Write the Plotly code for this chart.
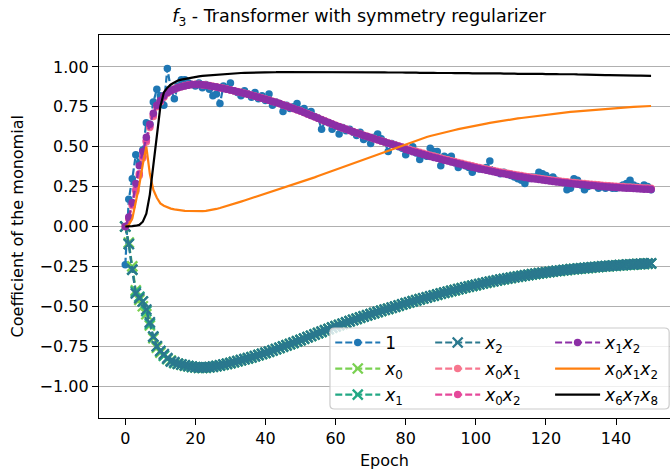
import plotly.graph_objects as go

epochs = list(range(151))

s_one = [-0.24, 0.17, 0.30, 0.45, 0.40, 0.48, 0.65, 0.64, 0.78, 0.86,
         0.82, 0.76, 0.99, 0.86, 0.80, 0.88, 0.92, 0.92, 0.90, 0.89,
         0.88, 0.90, 0.87, 0.89, 0.86, 0.82, 0.83, 0.77, 0.88, 0.86,
         0.90, 0.85, 0.84, 0.82, 0.85, 0.83, 0.81, 0.84, 0.80, 0.82,
         0.79, 0.83, 0.76, 0.78, 0.77, 0.72, 0.76, 0.74, 0.75, 0.77,
         0.73, 0.74, 0.71, 0.72, 0.69, 0.68, 0.61, 0.66, 0.65, 0.61,
         0.63, 0.58, 0.62, 0.60, 0.61, 0.59, 0.57, 0.59, 0.545, 0.56,
         0.52, 0.56, 0.58, 0.55, 0.53, 0.47, 0.52, 0.51, 0.50, 0.49,
         0.45, 0.48, 0.50, 0.46, 0.42, 0.45, 0.44, 0.49, 0.47, 0.47,
         0.38, 0.44, 0.43, 0.44, 0.40, 0.37, 0.39, 0.38, 0.37, 0.34,
         0.37, 0.36, 0.36, 0.37, 0.41, 0.35, 0.34, 0.33, 0.34, 0.33,
         0.32, 0.31, 0.30, 0.29, 0.27, 0.30, 0.31, 0.31, 0.34, 0.33,
         0.32, 0.30, 0.31, 0.29, 0.28, 0.28, 0.23, 0.24, 0.30, 0.29,
         0.26, 0.23, 0.25, 0.26, 0.26, 0.24, 0.25, 0.24, 0.25, 0.24,
         0.24, 0.25, 0.26, 0.27, 0.29, 0.26, 0.25, 0.24, 0.26, 0.25,
         0.23]

s_x0 = [0.00, -0.10, -0.25, -0.40, -0.46, -0.50, -0.55, -0.62, -0.70, -0.76,
        -0.79, -0.81, -0.83, -0.84, -0.855, -0.86, -0.866, -0.872, -0.876, -0.88,
        -0.883, -0.885, -0.886, -0.884, -0.882, -0.879, -0.875, -0.871, -0.866, -0.861,
        -0.856, -0.85, -0.844, -0.838, -0.832, -0.826, -0.82, -0.813, -0.806, -0.799,
        -0.792, -0.785, -0.777, -0.769, -0.761, -0.753, -0.745, -0.737, -0.729, -0.72,
        -0.712, -0.703, -0.694, -0.686, -0.677, -0.668, -0.66, -0.651, -0.643, -0.634,
        -0.626, -0.618, -0.61, -0.602, -0.594, -0.586, -0.579, -0.571, -0.564, -0.557,
        -0.55, -0.543, -0.536, -0.529, -0.522, -0.516, -0.509, -0.503, -0.496, -0.489,
        -0.482, -0.476, -0.469, -0.463, -0.457, -0.451, -0.445, -0.439, -0.433, -0.427,
        -0.421, -0.415, -0.41, -0.404, -0.399, -0.393, -0.388, -0.382, -0.377, -0.372,
        -0.367, -0.362, -0.357, -0.352, -0.347, -0.343, -0.338, -0.334, -0.33, -0.326,
        -0.322, -0.318, -0.314, -0.311, -0.307, -0.304, -0.30, -0.297, -0.294, -0.291,
        -0.288, -0.285, -0.282, -0.279, -0.277, -0.274, -0.272, -0.269, -0.267, -0.265,
        -0.263, -0.261, -0.259, -0.257, -0.255, -0.253, -0.251, -0.249, -0.248, -0.246,
        -0.245, -0.243, -0.242, -0.24, -0.239, -0.238, -0.236, -0.235, -0.234, -0.233,
        -0.232]

s_x1 = [0.00, -0.11, -0.27, -0.41, -0.44, -0.47, -0.53, -0.61, -0.69, -0.75,
        -0.78, -0.81, -0.83, -0.845, -0.855, -0.86, -0.865, -0.87, -0.875, -0.88,
        -0.882, -0.884, -0.885, -0.884, -0.882, -0.879, -0.875, -0.871, -0.866, -0.861,
        -0.856, -0.85, -0.844, -0.838, -0.832, -0.826, -0.82, -0.813, -0.806, -0.799,
        -0.792, -0.785, -0.777, -0.769, -0.761, -0.753, -0.745, -0.737, -0.729, -0.72,
        -0.712, -0.703, -0.694, -0.686, -0.677, -0.668, -0.66, -0.651, -0.643, -0.634,
        -0.626, -0.618, -0.61, -0.602, -0.594, -0.586, -0.579, -0.571, -0.564, -0.557,
        -0.55, -0.543, -0.536, -0.529, -0.522, -0.516, -0.509, -0.503, -0.496, -0.489,
        -0.482, -0.476, -0.469, -0.463, -0.457, -0.451, -0.445, -0.439, -0.433, -0.427,
        -0.421, -0.415, -0.41, -0.404, -0.399, -0.393, -0.388, -0.382, -0.377, -0.372,
        -0.367, -0.362, -0.357, -0.352, -0.347, -0.343, -0.338, -0.334, -0.33, -0.326,
        -0.322, -0.318, -0.314, -0.311, -0.307, -0.304, -0.30, -0.297, -0.294, -0.291,
        -0.288, -0.285, -0.282, -0.279, -0.277, -0.274, -0.272, -0.269, -0.267, -0.265,
        -0.263, -0.261, -0.259, -0.257, -0.255, -0.253, -0.251, -0.249, -0.248, -0.246,
        -0.245, -0.243, -0.242, -0.24, -0.239, -0.238, -0.236, -0.235, -0.234, -0.233,
        -0.232]

s_x2 = [0.00, -0.11, -0.27, -0.42, -0.45, -0.47, -0.52, -0.60, -0.69, -0.75,
        -0.78, -0.80, -0.825, -0.845, -0.85, -0.86, -0.865, -0.87, -0.874, -0.878,
        -0.882, -0.884, -0.884, -0.883, -0.881, -0.878, -0.874, -0.87, -0.865, -0.86,
        -0.855, -0.849, -0.843, -0.837, -0.831, -0.825, -0.819, -0.812, -0.805, -0.798,
        -0.791, -0.784, -0.776, -0.768, -0.76, -0.752, -0.744, -0.736, -0.728, -0.719,
        -0.711, -0.702, -0.693, -0.685, -0.676, -0.667, -0.659, -0.65, -0.642, -0.633,
        -0.625, -0.617, -0.609, -0.601, -0.593, -0.585, -0.578, -0.57, -0.563, -0.556,
        -0.549, -0.542, -0.535, -0.528, -0.521, -0.515, -0.508, -0.502, -0.495, -0.488,
        -0.481, -0.475, -0.468, -0.462, -0.456, -0.45, -0.444, -0.438, -0.432, -0.426,
        -0.42, -0.414, -0.409, -0.403, -0.398, -0.392, -0.387, -0.381, -0.376, -0.371,
        -0.366, -0.361, -0.356, -0.351, -0.346, -0.342, -0.337, -0.333, -0.329, -0.325,
        -0.321, -0.317, -0.313, -0.31, -0.306, -0.303, -0.299, -0.296, -0.293, -0.29,
        -0.287, -0.284, -0.281, -0.278, -0.276, -0.273, -0.271, -0.268, -0.266, -0.264,
        -0.262, -0.26, -0.258, -0.256, -0.254, -0.252, -0.25, -0.248, -0.247, -0.245,
        -0.244, -0.242, -0.241, -0.239, -0.238, -0.237, -0.235, -0.234, -0.233, -0.232,
        -0.231]

s_x0x1 = [0.00, 0.05, 0.13, 0.22, 0.32, 0.43, 0.53, 0.62, 0.69, 0.75,
          0.78, 0.81, 0.835, 0.85, 0.86, 0.87, 0.876, 0.882, 0.886, 0.89,
          0.891, 0.891, 0.889, 0.886, 0.883, 0.879, 0.875, 0.871, 0.866, 0.861,
          0.856, 0.851, 0.846, 0.841, 0.835, 0.829, 0.823, 0.817, 0.811, 0.805,
          0.799, 0.792, 0.785, 0.778, 0.771, 0.763, 0.756, 0.748, 0.74, 0.732,
          0.724, 0.715, 0.706, 0.697, 0.688, 0.679, 0.67, 0.661, 0.652, 0.643,
          0.634, 0.626, 0.618, 0.61, 0.602, 0.595, 0.587, 0.58, 0.572, 0.565,
          0.558, 0.551, 0.544, 0.537, 0.53, 0.523, 0.517, 0.51, 0.504, 0.497,
          0.49, 0.484, 0.477, 0.471, 0.465, 0.459, 0.453, 0.447, 0.441, 0.435,
          0.429, 0.423, 0.418, 0.412, 0.407, 0.401, 0.396, 0.39, 0.385, 0.38,
          0.375, 0.37, 0.365, 0.36, 0.355, 0.351, 0.346, 0.342, 0.338, 0.334,
          0.33, 0.326, 0.322, 0.319, 0.315, 0.312, 0.308, 0.305, 0.302, 0.299,
          0.296, 0.293, 0.29, 0.287, 0.285, 0.282, 0.28, 0.277, 0.275, 0.273,
          0.271, 0.269, 0.267, 0.265, 0.263, 0.261, 0.259, 0.257, 0.256, 0.254,
          0.253, 0.251, 0.25, 0.248, 0.247, 0.246, 0.244, 0.243, 0.242, 0.241,
          0.24]

s_x0x2 = [0.00, 0.05, 0.14, 0.23, 0.33, 0.44, 0.54, 0.63, 0.70, 0.755,
          0.785, 0.815, 0.838, 0.852, 0.862, 0.871, 0.877, 0.883, 0.887, 0.89,
          0.89, 0.89, 0.888, 0.885, 0.882, 0.878, 0.874, 0.87, 0.865, 0.86,
          0.855, 0.85, 0.845, 0.84, 0.834, 0.828, 0.822, 0.816, 0.81, 0.804,
          0.798, 0.791, 0.784, 0.777, 0.77, 0.762, 0.755, 0.747, 0.739, 0.731,
          0.723, 0.714, 0.705, 0.696, 0.687, 0.678, 0.669, 0.66, 0.651, 0.642,
          0.633, 0.625, 0.617, 0.609, 0.601, 0.594, 0.586, 0.579, 0.571, 0.564,
          0.557, 0.55, 0.543, 0.536, 0.529, 0.522, 0.516, 0.509, 0.503, 0.496,
          0.486, 0.48, 0.473, 0.467, 0.461, 0.455, 0.449, 0.443, 0.437, 0.431,
          0.425, 0.419, 0.414, 0.408, 0.403, 0.397, 0.392, 0.386, 0.381, 0.376,
          0.371, 0.366, 0.361, 0.356, 0.351, 0.347, 0.342, 0.338, 0.334, 0.33,
          0.326, 0.322, 0.318, 0.315, 0.311, 0.308, 0.304, 0.301, 0.298, 0.295,
          0.292, 0.289, 0.286, 0.283, 0.281, 0.278, 0.276, 0.273, 0.271, 0.269,
          0.267, 0.265, 0.263, 0.261, 0.259, 0.257, 0.255, 0.253, 0.252, 0.25,
          0.249, 0.247, 0.246, 0.244, 0.243, 0.242, 0.24, 0.239, 0.238, 0.237,
          0.236]

s_x1x2 = [0.00, 0.06, 0.15, 0.27, 0.38, 0.47, 0.56, 0.64, 0.71, 0.76,
          0.79, 0.82, 0.84, 0.85, 0.86, 0.87, 0.875, 0.88, 0.885, 0.89,
          0.89, 0.89, 0.888, 0.885, 0.882, 0.878, 0.874, 0.87, 0.865, 0.86,
          0.855, 0.85, 0.845, 0.84, 0.834, 0.828, 0.822, 0.816, 0.81, 0.804,
          0.798, 0.791, 0.784, 0.777, 0.77, 0.762, 0.755, 0.747, 0.739, 0.731,
          0.723, 0.714, 0.705, 0.696, 0.687, 0.678, 0.669, 0.66, 0.651, 0.642,
          0.633, 0.625, 0.617, 0.609, 0.601, 0.594, 0.586, 0.579, 0.571, 0.564,
          0.557, 0.55, 0.543, 0.536, 0.529, 0.522, 0.516, 0.509, 0.503, 0.496,
          0.482, 0.476, 0.469, 0.463, 0.457, 0.451, 0.445, 0.439, 0.433, 0.427,
          0.421, 0.415, 0.41, 0.404, 0.399, 0.393, 0.388, 0.382, 0.377, 0.372,
          0.367, 0.362, 0.357, 0.352, 0.347, 0.343, 0.338, 0.334, 0.33, 0.326,
          0.322, 0.318, 0.314, 0.311, 0.307, 0.304, 0.30, 0.297, 0.294, 0.291,
          0.288, 0.285, 0.282, 0.279, 0.277, 0.274, 0.272, 0.269, 0.267, 0.265,
          0.263, 0.261, 0.259, 0.257, 0.255, 0.253, 0.251, 0.249, 0.248, 0.246,
          0.245, 0.243, 0.242, 0.24, 0.239, 0.238, 0.236, 0.235, 0.234, 0.233,
          0.232]

s_x0x1x2 = [0.00, 0.01, 0.05, 0.15, 0.26, 0.39, 0.50, 0.33, 0.23, 0.18,
            0.145, 0.13, 0.12, 0.112, 0.107, 0.103, 0.10, 0.098, 0.097, 0.096,
            0.095, 0.095, 0.096, 0.098, 0.101, 0.105, 0.11, 0.116, 0.122, 0.128,
            0.135, 0.142, 0.149, 0.156, 0.163, 0.17, 0.177, 0.184, 0.191, 0.198,
            0.205, 0.212, 0.219, 0.226, 0.233, 0.24, 0.247, 0.254, 0.261, 0.268,
            0.276, 0.284, 0.292, 0.30, 0.308, 0.316, 0.324, 0.332, 0.34, 0.348,
            0.356, 0.364, 0.372, 0.38, 0.388, 0.396, 0.404, 0.412, 0.42, 0.428,
            0.436, 0.444, 0.452, 0.46, 0.468, 0.476, 0.484, 0.492, 0.50, 0.508,
            0.516, 0.524, 0.532, 0.54, 0.547, 0.554, 0.561, 0.567, 0.573, 0.579,
            0.585, 0.59, 0.595, 0.60, 0.605, 0.61, 0.615, 0.62, 0.625, 0.629,
            0.633, 0.637, 0.641, 0.645, 0.649, 0.653, 0.657, 0.66, 0.664, 0.667,
            0.671, 0.674, 0.677, 0.68, 0.683, 0.686, 0.689, 0.692, 0.695, 0.698,
            0.70, 0.703, 0.706, 0.708, 0.711, 0.713, 0.716, 0.718, 0.72, 0.722,
            0.724, 0.726, 0.728, 0.73, 0.732, 0.734, 0.736, 0.737, 0.739, 0.741,
            0.742, 0.744, 0.745, 0.747, 0.748, 0.749, 0.751, 0.752, 0.753, 0.754,
            0.755]

s_x6x7x8 = [0.00, 0.00, 0.002, 0.005, 0.01, 0.03, 0.08, 0.20, 0.38, 0.57,
            0.75, 0.84, 0.87, 0.89, 0.905, 0.915, 0.92, 0.925, 0.93, 0.935,
            0.938, 0.941, 0.944, 0.946, 0.948, 0.95, 0.952, 0.954, 0.956, 0.957,
            0.958, 0.96, 0.961, 0.962, 0.963, 0.963, 0.964, 0.965, 0.965, 0.966,
            0.966, 0.967, 0.967, 0.967, 0.968, 0.968, 0.968, 0.969, 0.969, 0.969,
            0.969, 0.97, 0.969, 0.969, 0.97, 0.969, 0.969, 0.969, 0.968, 0.969,
            0.968, 0.968, 0.969, 0.968, 0.968, 0.967, 0.968, 0.967, 0.967, 0.967,
            0.966, 0.967, 0.966, 0.966, 0.966, 0.965, 0.966, 0.965, 0.965, 0.965,
            0.964, 0.965, 0.964, 0.964, 0.963, 0.964, 0.963, 0.963, 0.963, 0.962,
            0.963, 0.962, 0.962, 0.962, 0.961, 0.962, 0.961, 0.961, 0.961, 0.96,
            0.961, 0.96, 0.96, 0.96, 0.959, 0.96, 0.959, 0.959, 0.958, 0.959,
            0.958, 0.958, 0.957, 0.958, 0.957, 0.957, 0.956, 0.957, 0.956, 0.956,
            0.955, 0.956, 0.955, 0.955, 0.954, 0.955, 0.954, 0.953, 0.954, 0.953,
            0.952, 0.953, 0.952, 0.951, 0.951, 0.95, 0.95, 0.949, 0.949, 0.948,
            0.948, 0.947, 0.947, 0.946, 0.946, 0.945, 0.945, 0.945, 0.944, 0.944,
            0.944]

names = ["1", "<i>x</i><sub>0</sub>", "<i>x</i><sub>1</sub>", "<i>x</i><sub>2</sub>",
         "<i>x</i><sub>0</sub><i>x</i><sub>1</sub>", "<i>x</i><sub>0</sub><i>x</i><sub>2</sub>",
         "<i>x</i><sub>1</sub><i>x</i><sub>2</sub>",
         "<i>x</i><sub>0</sub><i>x</i><sub>1</sub><i>x</i><sub>2</sub>",
         "<i>x</i><sub>6</sub><i>x</i><sub>7</sub><i>x</i><sub>8</sub>"]
series = [s_one, s_x0, s_x1, s_x2, s_x0x1, s_x0x2, s_x1x2, s_x0x1x2, s_x6x7x8]
colors = ["#1f77b4", "#7ad151", "#22a884", "#2a788e", "#f7768e", "#e5489a", "#8c2fa6",
          "#ff7f0e", "#000000"]
kinds = ["dot", "x", "x", "x", "dot", "dot", "dot", "line", "line"]

FONT = "DejaVu Sans"
fig = go.Figure()

# legend grid: column / row for each series (column-major like matplotlib ncol=3)
leg_x = [0.405, 0.405, 0.405, 0.58, 0.58, 0.58, 0.79, 0.79, 0.79]
leg_y = [0.196, 0.128, 0.060, 0.196, 0.128, 0.060, 0.196, 0.128, 0.060]

for i, (nm, ys, col, kind) in enumerate(zip(names, series, colors, kinds)):
    lg = "legend" if i == 0 else f"legend{i+1}"
    if kind == "dot":
        tr = go.Scatter(x=epochs, y=ys, mode="lines+markers", name=nm,
                        line=dict(color=col, width=2.2, dash="7px,3px"),
                        marker=dict(symbol="circle", size=7.5, color=col),
                        legend=lg)
    elif kind == "x":
        tr = go.Scatter(x=epochs, y=ys, mode="lines+markers", name=nm,
                        line=dict(color=col, width=2.2, dash="7px,3px"),
                        marker=dict(symbol="x-thin-open", size=10, color=col,
                                    line=dict(color=col, width=2.3)),
                        legend=lg)
    else:
        tr = go.Scatter(x=epochs, y=ys, mode="lines", name=nm,
                        line=dict(color=col, width=2.2), legend=lg)
    fig.add_trace(tr)

legend_common = dict(bgcolor="rgba(0,0,0,0)", borderwidth=0,
                     font=dict(family=FONT, size=17, color="#000000"),
                     xanchor="left", yanchor="middle", itemwidth=45)
layout_legends = {}
for i in range(9):
    key = "legend" if i == 0 else f"legend{i+1}"
    layout_legends[key] = dict(legend_common, x=leg_x[i], y=leg_y[i])

# legend frame (paper coordinates): rounded rectangle around the legend entries
x0p, x1p, y0p, y1p, rr = 0.4045, 0.9985, 0.0235, 0.235, 0.008
frame = dict(
    type="path", xref="paper", yref="paper", layer="above",
    path=(f"M {x0p+rr} {y0p} L {x1p-rr} {y0p} Q {x1p} {y0p} {x1p} {y0p+rr*1.4} "
          f"L {x1p} {y1p-rr*1.4} Q {x1p} {y1p} {x1p-rr} {y1p} "
          f"L {x0p+rr} {y1p} Q {x0p} {y1p} {x0p} {y1p-rr*1.4} "
          f"L {x0p} {y0p+rr*1.4} Q {x0p} {y0p} {x0p+rr} {y0p} Z"),
    fillcolor="rgba(255,255,255,0.8)", line=dict(color="#cccccc", width=1.2))

fig.update_layout(
    width=670, height=470,
    margin=dict(l=99, r=0, t=35, b=52),
    paper_bgcolor="white", plot_bgcolor="white",
    font=dict(family=FONT, size=16, color="#000000"),
    title=dict(text="<i>f</i><sub>3</sub> - Transformer with symmetry regularizer",
               x=0.536, xanchor="center", y=0.966, yanchor="middle",
               font=dict(family=FONT, size=17.5, color="#000000")),
    xaxis=dict(range=[-7.5, 155.4], tickvals=[0, 20, 40, 60, 80, 100, 120, 140],
               showgrid=False, zeroline=False, showline=True, mirror=True,
               linecolor="black", linewidth=1.3, ticks="outside", ticklen=6,
               tickwidth=1.3, tickcolor="black",
               title=dict(text="Epoch", standoff=7, font=dict(size=16)),
               tickfont=dict(size=16)),
    yaxis=dict(range=[-1.2, 1.2], tick0=0, dtick=0.25, tickformat=".2f",
               showgrid=True, gridcolor="#b0b0b0", gridwidth=1.3, zeroline=False,
               showline=True, mirror=False, linecolor="black", linewidth=1.3,
               ticks="outside", ticklen=6, tickwidth=1.3, tickcolor="black",
               tickfont=dict(size=16)),
    annotations=[dict(text="Coefficient of the monomial", xref="paper", yref="paper",
                      x=-0.142, y=0.5, xanchor="center", yanchor="middle",
                      textangle=-90, showarrow=False,
                      font=dict(family=FONT, size=16, color="#000000"))],
    showlegend=True,
    shapes=[frame],
    **layout_legends,
)

fig.write_html("out.html")
